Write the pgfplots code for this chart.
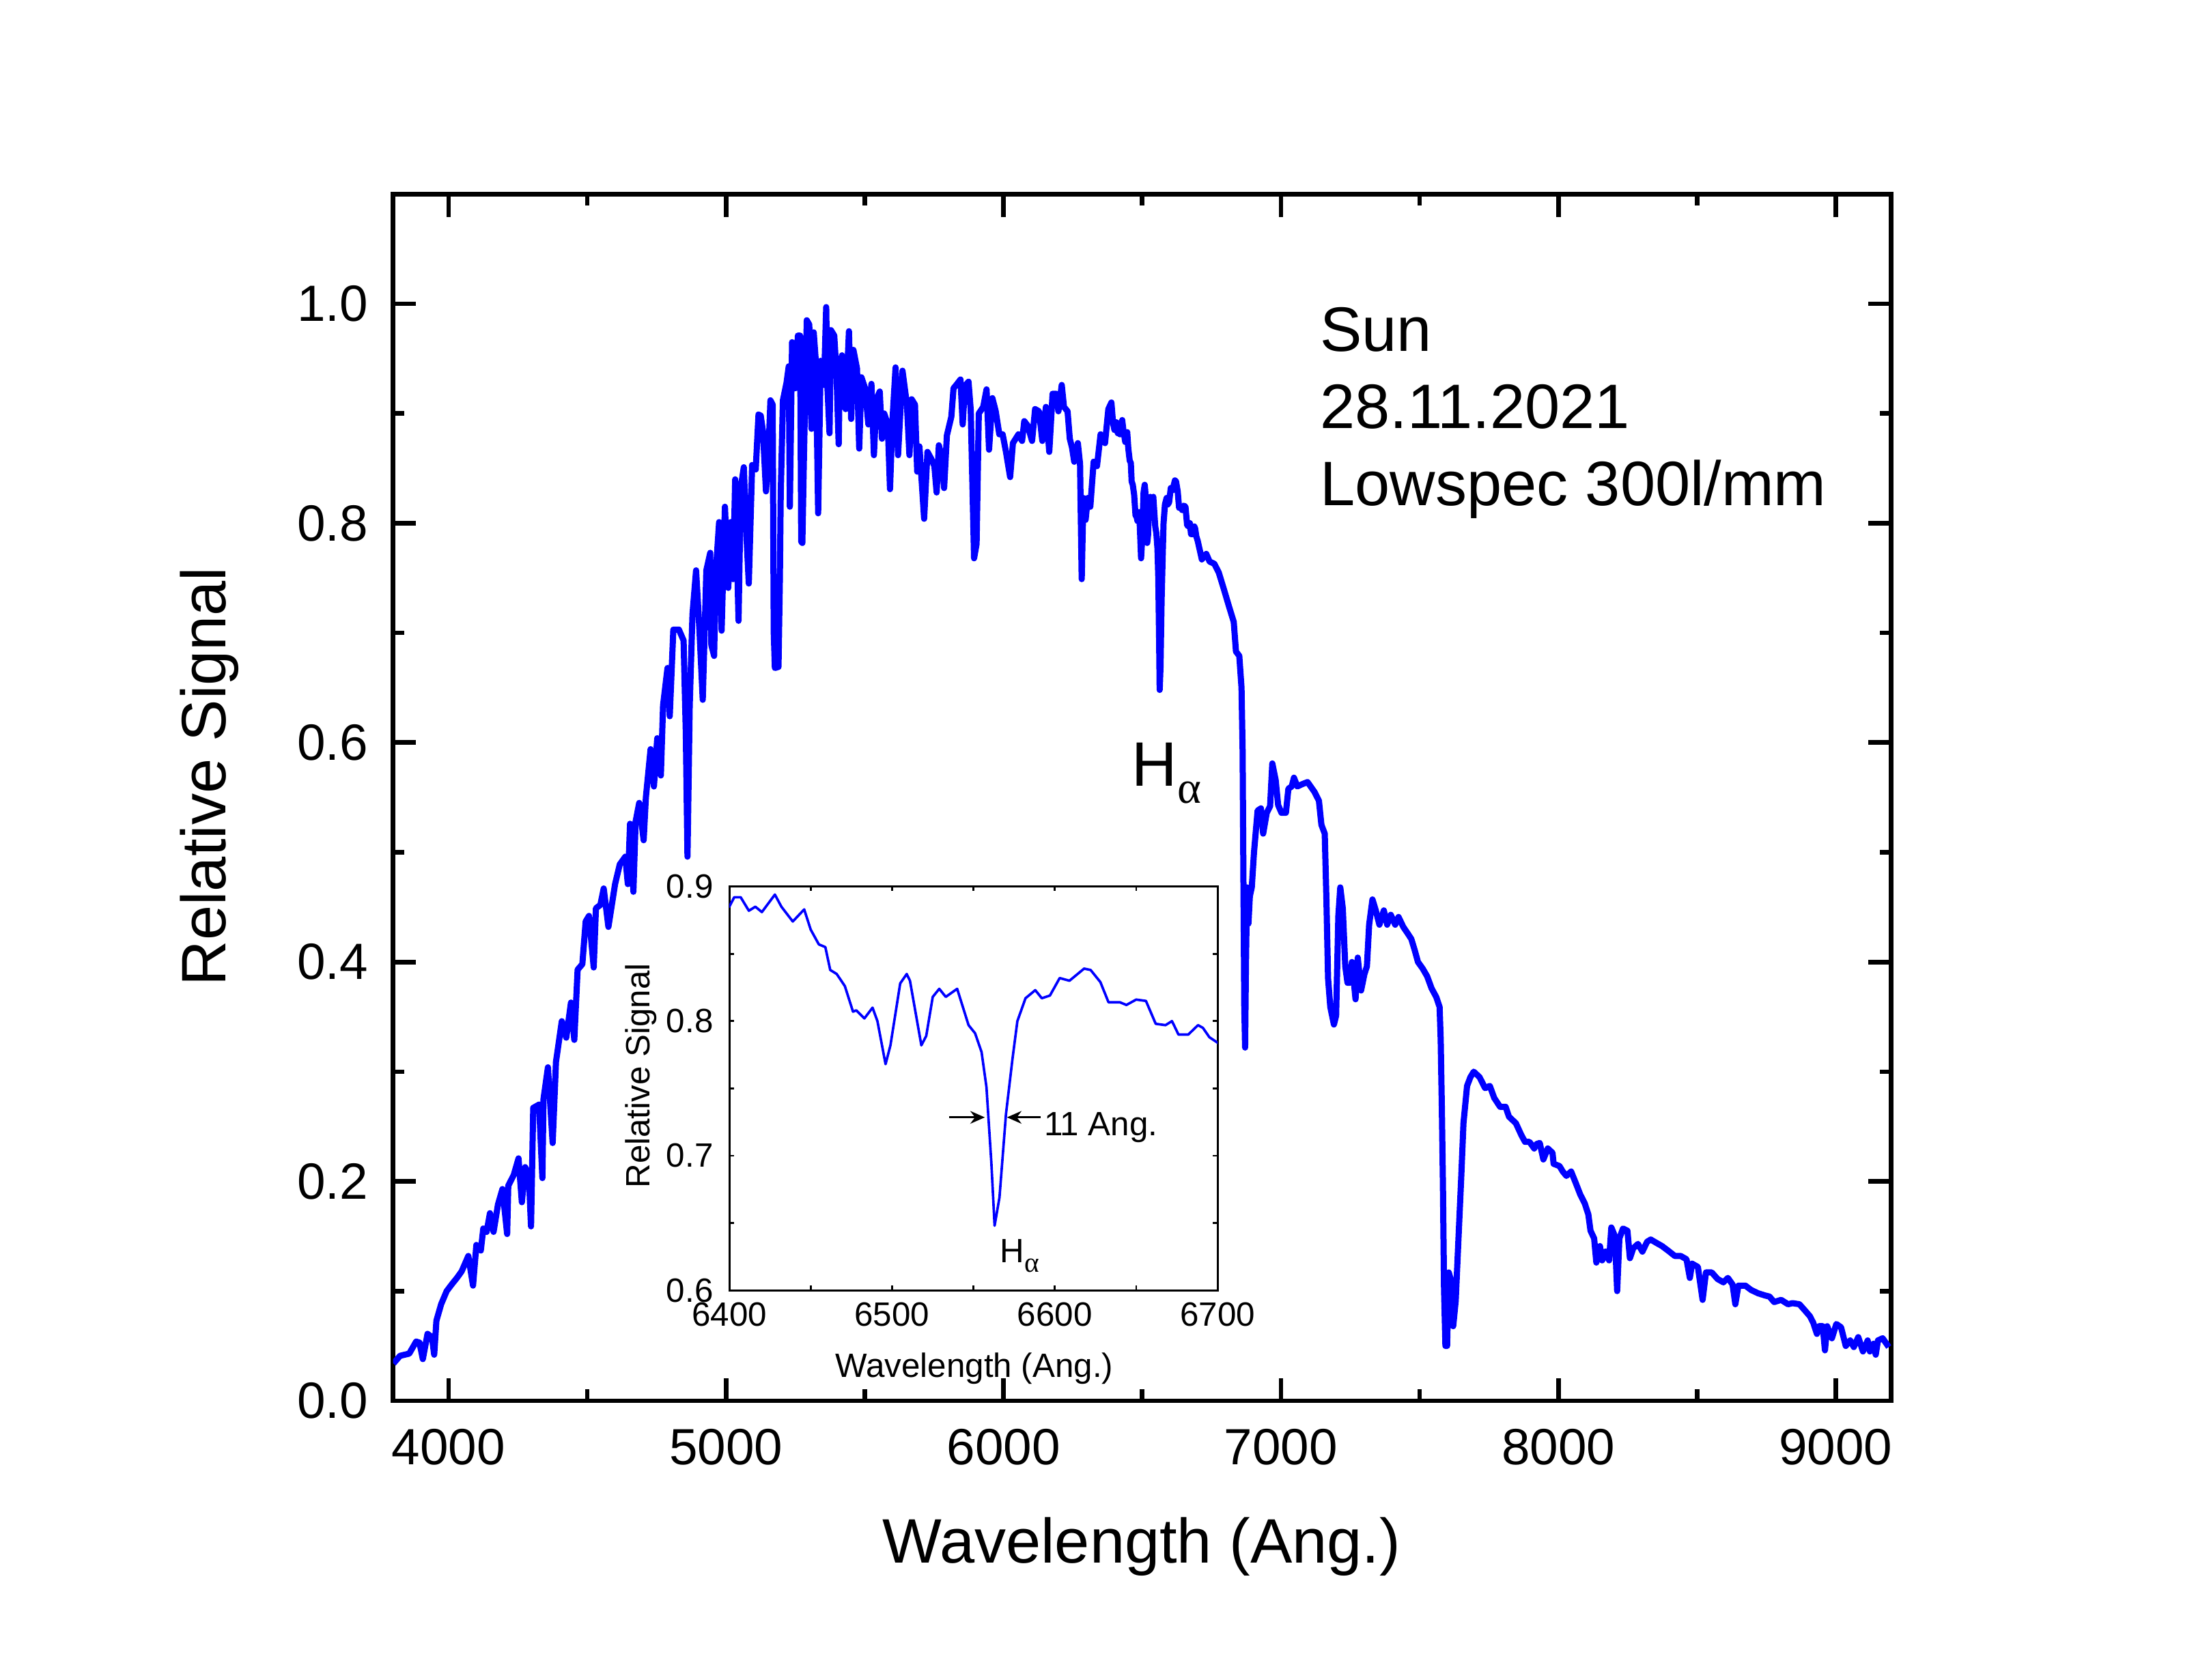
\documentclass[border=0pt]{standalone}
\usepackage{fontspec}
\setmainfont{Liberation Sans}
\newfontfamily\greekserif{Liberation Serif}
\usepackage{pgfplots}
\pgfplotsset{compat=1.18}
\usepackage{pgfplotstable}
\usetikzlibrary{arrows.meta}
\definecolor{specblue}{RGB}{0,0,255}

\pgfplotstableread{
x y
3801 0.034
3825 0.041
3858 0.043
3883 0.054
3895 0.053
3907 0.038
3924 0.061
3940 0.058
3948 0.042
3956 0.073
3973 0.088
3993 0.100
4014 0.107
4030 0.112
4047 0.118
4071 0.132
4088 0.105
4100 0.142
4116 0.137
4125 0.157
4137 0.154
4149 0.171
4162 0.154
4178 0.179
4194 0.193
4211 0.152
4215 0.196
4235 0.206
4252 0.221
4264 0.181
4276 0.213
4289 0.206
4297 0.159
4305 0.267
4326 0.270
4338 0.203
4342 0.275
4358 0.304
4375 0.235
4387 0.309
4408 0.346
4424 0.331
4441 0.363
4453 0.329
4465 0.393
4482 0.398
4494 0.437
4506 0.442
4523 0.395
4531 0.449
4547 0.452
4559 0.467
4576 0.432
4600 0.471
4617 0.489
4637 0.496
4646 0.471
4654 0.526
4666 0.464
4674 0.528
4687 0.545
4703 0.511
4711 0.550
4728 0.594
4740 0.560
4752 0.604
4765 0.570
4773 0.634
4789 0.668
4797 0.624
4810 0.703
4830 0.703
4847 0.693
4855 0.609
4861 0.496
4869 0.634
4879 0.717
4892 0.757
4904 0.703
4916 0.639
4929 0.757
4943 0.773
4947 0.689
4957 0.679
4963 0.755
4975 0.801
4984 0.702
4996 0.815
5008 0.741
5017 0.801
5025 0.749
5033 0.840
5045 0.711
5053 0.832
5064 0.851
5074 0.786
5082 0.745
5094 0.853
5107 0.849
5117 0.899
5125 0.898
5133 0.884
5144 0.829
5152 0.858
5160 0.912
5168 0.908
5172 0.700
5176 0.668
5189 0.669
5194 0.750
5197 0.826
5205 0.912
5218 0.928
5226 0.943
5230 0.815
5238 0.965
5250 0.923
5259 0.971
5267 0.971
5271 0.783
5275 0.782
5281 0.864
5291 0.985
5300 0.981
5308 0.886
5316 0.974
5324 0.946
5332 0.809
5341 0.948
5353 0.926
5361 0.997
5365 0.926
5373 0.882
5378 0.976
5390 0.971
5398 0.937
5406 0.872
5410 0.939
5418 0.953
5431 0.904
5443 0.975
5451 0.895
5459 0.958
5472 0.941
5480 0.868
5488 0.933
5501 0.923
5513 0.890
5524 0.927
5533 0.862
5542 0.913
5554 0.920
5562 0.877
5570 0.900
5583 0.890
5591 0.831
5599 0.890
5611 0.942
5620 0.862
5636 0.939
5652 0.908
5661 0.862
5669 0.913
5681 0.908
5689 0.847
5697 0.870
5714 0.804
5726 0.865
5739 0.859
5751 0.852
5759 0.828
5767 0.871
5775 0.863
5786 0.832
5796 0.880
5812 0.897
5820 0.923
5833 0.927
5845 0.931
5853 0.890
5861 0.925
5874 0.929
5882 0.903
5894 0.768
5903 0.781
5911 0.900
5927 0.906
5939 0.922
5948 0.867
5960 0.914
5972 0.902
5985 0.881
5997 0.881
6009 0.865
6024 0.842
6034 0.873
6054 0.881
6067 0.875
6075 0.893
6087 0.889
6103 0.875
6114 0.904
6128 0.902
6140 0.875
6153 0.906
6165 0.865
6177 0.918
6190 0.918
6198 0.902
6210 0.926
6218 0.906
6231 0.902
6239 0.877
6247 0.869
6255 0.856
6268 0.873
6276 0.854
6282 0.749
6288 0.823
6296 0.803
6304 0.823
6313 0.815
6325 0.856
6337 0.852
6350 0.881
6366 0.873
6378 0.904
6389 0.910
6395 0.891
6400 0.885
6403 0.892
6407 0.892
6412 0.882
6416 0.885
6420 0.881
6428 0.894
6432 0.885
6439 0.874
6446 0.883
6450 0.868
6455 0.857
6459 0.855
6462 0.838
6466 0.835
6471 0.826
6476 0.807
6478 0.808
6483 0.802
6488 0.810
6491 0.800
6496 0.768
6499 0.782
6505 0.828
6509 0.835
6511 0.830
6518 0.782
6521 0.789
6525 0.818
6529 0.824
6533 0.818
6540 0.824
6547 0.797
6551 0.791
6555 0.777
6558 0.751
6561 0.695
6563 0.648
6566 0.669
6570 0.731
6574 0.772
6577 0.800
6582 0.817
6588 0.823
6592 0.817
6597 0.819
6603 0.832
6609 0.830
6618 0.839
6622 0.838
6628 0.829
6633 0.814
6640 0.814
6644 0.812
6650 0.816
6656 0.815
6662 0.798
6668 0.797
6672 0.800
6676 0.790
6682 0.790
6688 0.797
6691 0.795
6695 0.788
6700 0.784
6715 0.767
6731 0.772
6743 0.765
6760 0.763
6776 0.755
6793 0.741
6813 0.724
6830 0.710
6838 0.683
6850 0.679
6858 0.650
6862 0.592
6865 0.470
6868 0.360
6871 0.322
6874 0.400
6878 0.468
6883 0.435
6888 0.460
6895 0.468
6903 0.500
6916 0.538
6928 0.540
6936 0.517
6949 0.536
6961 0.542
6969 0.581
6981 0.566
6990 0.543
7002 0.536
7018 0.536
7027 0.558
7039 0.560
7047 0.568
7059 0.560
7076 0.562
7096 0.564
7121 0.555
7137 0.547
7146 0.525
7158 0.517
7164 0.457
7170 0.385
7178 0.359
7191 0.343
7199 0.351
7207 0.442
7214 0.468
7223 0.449
7232 0.396
7240 0.381
7248 0.381
7256 0.400
7269 0.366
7277 0.404
7289 0.374
7301 0.389
7310 0.396
7318 0.434
7330 0.457
7342 0.447
7355 0.434
7371 0.447
7383 0.434
7396 0.443
7412 0.434
7424 0.441
7441 0.432
7457 0.426
7470 0.421
7482 0.411
7494 0.400
7511 0.394
7527 0.387
7543 0.376
7560 0.368
7572 0.359
7576 0.329
7580 0.268
7584 0.197
7588 0.102
7593 0.050
7599 0.050
7605 0.117
7613 0.110
7621 0.068
7630 0.091
7642 0.159
7650 0.204
7658 0.253
7671 0.287
7683 0.295
7695 0.300
7716 0.295
7736 0.285
7753 0.287
7769 0.276
7790 0.268
7810 0.268
7822 0.259
7847 0.253
7867 0.242
7880 0.236
7896 0.236
7913 0.230
7921 0.234
7933 0.235
7946 0.220
7962 0.230
7979 0.226
7983 0.216
8004 0.214
8016 0.209
8029 0.205
8046 0.209
8062 0.199
8079 0.188
8095 0.180
8108 0.170
8116 0.155
8129 0.148
8137 0.126
8150 0.141
8158 0.128
8170 0.136
8183 0.128
8191 0.158
8204 0.150
8212 0.100
8220 0.148
8233 0.157
8249 0.155
8258 0.130
8270 0.139
8287 0.143
8303 0.136
8320 0.145
8333 0.147
8353 0.144
8374 0.141
8395 0.137
8420 0.132
8441 0.132
8462 0.129
8474 0.112
8482 0.125
8503 0.122
8520 0.092
8532 0.117
8553 0.117
8574 0.111
8595 0.108
8611 0.112
8628 0.106
8638 0.088
8649 0.105
8674 0.105
8695 0.101
8720 0.098
8745 0.096
8761 0.095
8778 0.090
8803 0.092
8828 0.088
8844 0.089
8869 0.088
8890 0.082
8907 0.077
8919 0.071
8932 0.061
8940 0.068
8953 0.068
8961 0.046
8969 0.068
8986 0.057
9002 0.070
9019 0.067
9036 0.050
9052 0.055
9065 0.049
9081 0.058
9098 0.045
9115 0.055
9123 0.045
9136 0.052
9144 0.042
9152 0.055
9169 0.057
9191 0.049
}\spec

\begin{document}
\begin{tikzpicture}
\path[use as bounding box] (0,0) rectangle (482.4pt,369.15pt);
\begin{axis}[
  at={(86.36pt,61.35pt)}, anchor=south west,
  scale only axis, width=329.1pt, height=265.15pt,
  xmin=3800, xmax=9200, ymin=0, ymax=1.1,
  xtick={4000,5000,6000,7000,8000,9000},
  minor xtick={4500,5500,6500,7500,8500},
  ytick={0,0.2,0.4,0.6,0.8,1.0},
  minor ytick={0.1,0.3,0.5,0.7,0.9},
  major tick length=5pt, minor tick length=2.5pt,
  tick style={line width=1pt, black},
  axis line style={line width=1pt},
  /pgf/number format/assume math mode=true,
  /pgf/number format/1000 sep={},
  xticklabel style={font=\fontsize{11.2}{13}\selectfont, yshift=-2.7pt},
  yticklabel style={font=\fontsize{11.2}{13}\selectfont, xshift=-2.0pt,
    /pgf/number format/fixed, /pgf/number format/fixed zerofill,
    /pgf/number format/precision=1},
]
\addplot[specblue, line width=1.35pt, line join=round] table[x=x,y=y]{\spec};
\end{axis}

\begin{axis}[
  at={(160.2pt,85.62pt)}, anchor=south west,
  scale only axis, width=107.25pt, height=88.73pt,
  xmin=6400, xmax=6700, ymin=0.6, ymax=0.9,
  xtick={6400,6500,6600,6700},
  minor xtick={6450,6550,6650},
  ytick={0.6,0.7,0.8,0.9},
  minor ytick={0.65,0.75,0.85},
  major tick length=1pt, minor tick length=1pt,
  tick style={line width=0.4pt, black},
  axis line style={line width=0.45pt},
  /pgf/number format/assume math mode=true,
  /pgf/number format/1000 sep={},
  xticklabel style={font=\fontsize{7.4}{9}\selectfont, yshift=0.9pt},
  yticklabel style={font=\fontsize{7.4}{9}\selectfont,
    /pgf/number format/fixed, /pgf/number format/fixed zerofill,
    /pgf/number format/precision=1},
]
\addplot[specblue, line width=0.55pt, line join=round] table[x=x,y=y]{\spec};
\draw[-{Stealth[length=3.2pt,width=2.8pt]}, line width=0.4pt] (axis cs:6535,0.7285) -- (axis cs:6557,0.7285);
\draw[-{Stealth[length=3.2pt,width=2.8pt]}, line width=0.4pt] (axis cs:6591.4,0.7285) -- (axis cs:6570.6,0.7285);
\end{axis}

% main annotations
\node[anchor=base west, inner sep=0, font=\fontsize{13.8}{16}\selectfont] at (289.8pt,291.9pt) {Sun};
\node[anchor=base west, inner sep=0, font=\fontsize{13.8}{16}\selectfont] at (289.8pt,275.05pt) {28.11.2021};
\node[anchor=base west, inner sep=0, font=\fontsize{13.8}{16}\selectfont] at (289.8pt,258.05pt) {Lowspec 300l/mm};
\node[anchor=base west, inner sep=0, font=\fontsize{13.8}{16}\selectfont] at (248.4pt,196.35pt) {H};
\node[anchor=base west, inner sep=0, font=\greekserif\fontsize{10}{12}\selectfont] at (258.5pt,192.65pt) {α};
% main axis labels
\node[anchor=base, inner sep=0, font=\fontsize{13.8}{16}\selectfont] at (250.8pt,25.65pt) {Wavelength (Ang.)};
\node[anchor=base, rotate=90, inner sep=0, font=\fontsize{13.8}{16}\selectfont] at (49.6pt,198.55pt) {Relative Signal};
% inset labels
\node[anchor=base, inner sep=0, font=\fontsize{7.4}{9}\selectfont] at (214.05pt,66.45pt) {Wavelength (Ang.)};
\node[anchor=base, rotate=90, inner sep=0, font=\fontsize{7.4}{9}\selectfont] at (142.7pt,132.75pt) {Relative Signal};
\node[anchor=base west, inner sep=0, font=\fontsize{7.4}{9}\selectfont] at (229.15pt,119.55pt) {11 Ang.};
\node[anchor=base west, inner sep=0, font=\fontsize{7.4}{9}\selectfont] at (219.4pt,91.75pt) {H};
\node[anchor=base west, inner sep=0, font=\greekserif\fontsize{6.2}{7}\selectfont] at (224.8pt,89.6pt) {α};
\end{tikzpicture}
\end{document}
